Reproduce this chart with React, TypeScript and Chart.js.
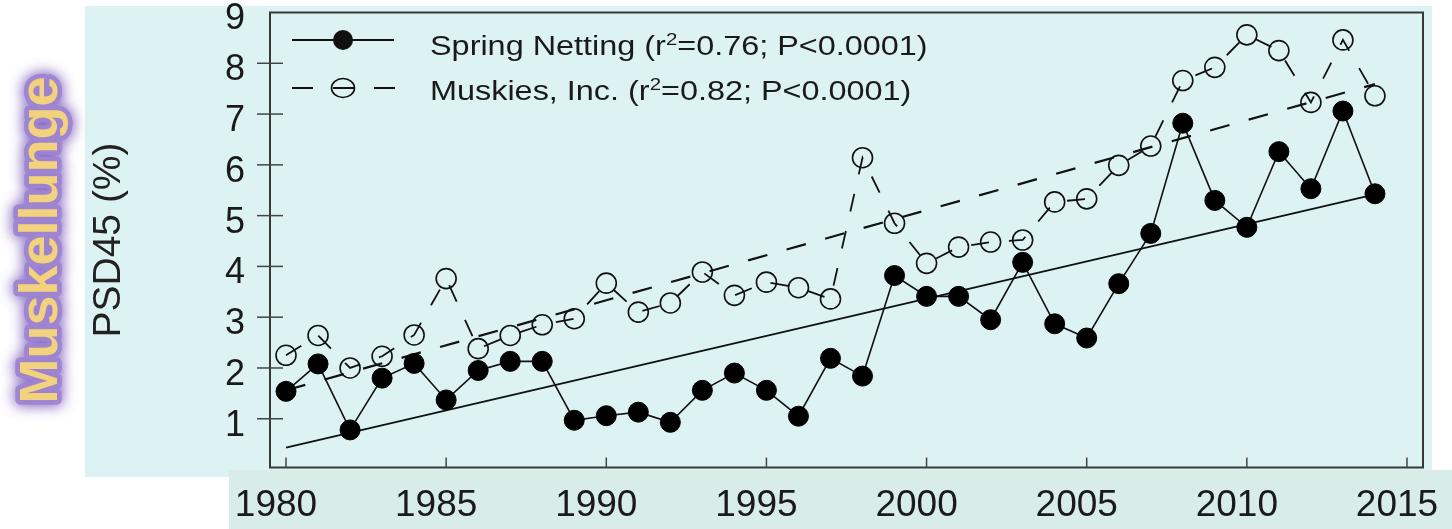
import React, { useEffect, useRef } from "react";
import { Chart, registerables } from "chart.js";

Chart.register(...registerables);

// ---- data ----
const years = [
  1980, 1981, 1982, 1983, 1984, 1985, 1986, 1987, 1988, 1989,
  1990, 1991, 1992, 1993, 1994, 1995, 1996, 1997, 1998, 1999,
  2000, 2001, 2002, 2003, 2004, 2005, 2006, 2007, 2008, 2009,
  2010, 2011, 2012, 2013, 2014,
];
const springNetting = [
  1.54, 2.08, 0.78, 1.8, 2.09, 1.37, 1.95, 2.13, 2.13, 0.97,
  1.06, 1.13, 0.93, 1.56, 1.9, 1.56, 1.05, 2.19, 1.84, 3.82,
  3.41, 3.41, 2.95, 4.08, 2.87, 2.59, 3.66, 4.65, 6.82, 5.3,
  4.77, 6.26, 5.53, 7.06, 5.43,
];
const muskiesInc = [
  2.25, 2.64, 2.0, 2.23, 2.65, 3.76, 2.38, 2.64, 2.85, 2.97,
  3.67, 3.1, 3.28, 3.89, 3.43, 3.69, 3.58, 3.36, 6.14, 4.85,
  4.06, 4.38, 4.48, 4.52, 5.27, 5.33, 5.99, 6.37, 7.66, 7.92,
  8.56, 8.25, 7.23, 8.46, 7.36,
];
const trendYears = [1980, 2014];
const springTrend = [0.43, 5.42];
const muskiesTrend = [1.56, 7.59];

const xTicks = [1980, 1985, 1990, 1995, 2000, 2005, 2010, 2015];
const yTicks = [1, 2, 3, 4, 5, 6, 7, 8, 9];

const legendNames = ["Spring Netting", "Muskies, Inc."];
const legendR2 = ["0.76", "0.82"];
const legendP = ["P<0.0001", "P<0.0001"];

const yTitle = "PSD45 (%)";
const sideLabel = "Muskellunge";

const FONT = "'Liberation Sans', Arial, Helvetica, sans-serif";

const toXY = (xs: number[], ys: number[]) => xs.map((x, i) => ({ x, y: ys[i] }));

const decorPlugin = {
  id: "decor",
  beforeDraw(chart: any) {
    const ctx = chart.ctx as CanvasRenderingContext2D;
    ctx.save();
    ctx.fillStyle = "#ffffff";
    ctx.fillRect(0, 0, chart.width, chart.height);
    ctx.fillStyle = "#ddf2f3";
    ctx.fillRect(85, 6, 1347, 471);
    ctx.fillStyle = "#d9ede8";
    ctx.fillRect(229, 470, 1223, 59);
    ctx.restore();
  },
  afterDraw(chart: any) {
    const ctx = chart.ctx as CanvasRenderingContext2D;
    const { left, right, top, bottom } = chart.chartArea;
    const xs = chart.scales.x;
    const ys = chart.scales.y;
    ctx.save();
    // box
    ctx.strokeStyle = "#383838";
    ctx.lineWidth = 2;
    ctx.strokeRect(left, top, right - left, bottom - top);
    // ticks
    ctx.lineWidth = 1.5;
    ctx.strokeStyle = "#444";
    yTicks.forEach((v) => {
      const py = ys.getPixelForValue(v);
      if (py < top + 2) return;
      ctx.beginPath();
      ctx.moveTo(left - 13, py);
      ctx.lineTo(left + 13, py);
      ctx.stroke();
    });
    xTicks.forEach((v) => {
      const px = xs.getPixelForValue(v);
      ctx.beginPath();
      ctx.moveTo(px, bottom);
      ctx.lineTo(px, bottom - 10);
      ctx.stroke();
    });

    // legend
    ctx.strokeStyle = "#111";
    ctx.fillStyle = "#111";
    ctx.lineWidth = 1.8;
    ctx.beginPath();
    ctx.moveTo(292, 40);
    ctx.lineTo(394, 40);
    ctx.stroke();
    ctx.beginPath();
    ctx.arc(343, 40, 10, 0, Math.PI * 2);
    ctx.fill();

    ctx.setLineDash([21, 20]);
    ctx.beginPath();
    ctx.moveTo(292, 88);
    ctx.lineTo(395, 88);
    ctx.stroke();
    ctx.setLineDash([]);
    ctx.lineWidth = 1.6;
    ctx.beginPath();
    ctx.ellipse(343, 88, 11.5, 9.5, 0, 0, Math.PI * 2);
    ctx.stroke();

    const baselines = [55, 100];
    legendNames.forEach((name, i) => {
      ctx.save();
      ctx.translate(430, baselines[i]);
      ctx.scale(1.2, 1);
      ctx.fillStyle = "#1a1a1a";
      ctx.textBaseline = "alphabetic";
      ctx.textAlign = "left";
      let cx = 0;
      ctx.font = `27px ${FONT}`;
      const p1 = `${name} (r`;
      ctx.fillText(p1, cx, 0);
      cx += ctx.measureText(p1).width;
      ctx.font = `17px ${FONT}`;
      ctx.fillText("2", cx, -10);
      cx += ctx.measureText("2").width;
      ctx.font = `27px ${FONT}`;
      ctx.fillText(`=${legendR2[i]}; ${legendP[i]})`, cx, 0);
      ctx.restore();
    });

    // side label
    ctx.save();
    ctx.translate(57, 240);
    ctx.rotate(-Math.PI / 2);
    ctx.font = `bold 54px ${FONT}`;
    ctx.textAlign = "center";
    ctx.textBaseline = "alphabetic";
    ctx.shadowColor = "rgba(135,105,195,0.95)";
    ctx.shadowBlur = 14;
    ctx.strokeStyle = "rgba(160,135,210,0.8)";
    ctx.lineWidth = 9;
    ctx.lineJoin = "round";
    ctx.strokeText(sideLabel, 0, 0);
    ctx.strokeText(sideLabel, 0, 0);
    ctx.shadowBlur = 0;
    ctx.shadowColor = "transparent";
    ctx.fillStyle = "#f2d27c";
    ctx.fillText(sideLabel, 0, 0);
    ctx.restore();

    ctx.restore();
  },
};

export default function App() {
  const ref = useRef<HTMLCanvasElement | null>(null);

  useEffect(() => {
    document.body.style.margin = "0";
    if (!ref.current) return;
    const chart = new Chart(ref.current, {
      type: "line",
      data: {
        datasets: [
          {
            label: legendNames[0],
            data: toXY(years, springNetting),
            borderColor: "#111",
            borderWidth: 1.6,
            pointRadius: 10,
            pointBackgroundColor: "#000",
            pointBorderColor: "#000",
            pointBorderWidth: 1,
            order: 1,
          },
          {
            label: legendNames[1],
            data: toXY(years, muskiesInc),
            borderColor: "#111",
            borderWidth: 1.8,
            borderDash: [18, 20],
            pointRadius: 10,
            pointBackgroundColor: "rgba(0,0,0,0)",
            pointBorderColor: "#111",
            pointBorderWidth: 1.6,
            order: 2,
          },
          {
            label: "trend1",
            data: toXY(trendYears, springTrend),
            borderColor: "#111",
            borderWidth: 1.8,
            pointRadius: 0,
            order: 3,
          },
          {
            label: "trend2",
            data: toXY(trendYears, muskiesTrend),
            borderColor: "#111",
            borderWidth: 2.2,
            borderDash: [20, 20],
            pointRadius: 0,
            order: 3,
          },
        ],
      },
      options: {
        animation: false,
        responsive: false,
        devicePixelRatio: 1,
        events: [],
        layout: { padding: { top: 12.5, right: 29, left: 0, bottom: 0 } },
        plugins: { legend: { display: false }, tooltip: { enabled: false } },
        scales: {
          x: {
            type: "linear",
            min: 1979.5,
            max: 2015.5,
            afterBuildTicks: (s: any) => {
              s.ticks = xTicks.map((v) => ({ value: v }));
            },
            afterFit: (s: any) => {
              s.height = 61.5;
              s.paddingLeft = 0;
              s.paddingRight = 0;
            },
            grid: { display: false, drawTicks: false },
            border: { display: false },
            ticks: {
              autoSkip: false,
              maxRotation: 0,
              padding: 16,
              labelOffset: -10,
              color: "#1a1a1a",
              font: { family: FONT, size: 37 },
              callback: (v: any) => String(v),
            },
          },
          y: {
            type: "linear",
            min: 0.04,
            max: 9,
            afterBuildTicks: (s: any) => {
              s.ticks = yTicks.map((v) => ({ value: v }));
            },
            afterFit: (s: any) => {
              s.width = 270;
              s.paddingTop = 0;
              s.paddingBottom = 0;
            },
            grid: { display: false, drawTicks: false },
            border: { display: false },
            title: {
              display: true,
              text: yTitle,
              color: "#222",
              font: { family: FONT, size: 39 },
              padding: { top: 86, bottom: 0 },
            },
            ticks: {
              padding: 25,
              labelOffset: 7,
              color: "#1a1a1a",
              font: { family: FONT, size: 36 },
              callback: (v: any) => String(v),
            },
          },
        },
      },
      plugins: [decorPlugin],
    });
    return () => chart.destroy();
  }, []);

  return (
    <div style={{ position: "absolute", left: 0, top: 0, width: 1452, height: 529 }}>
      <canvas ref={ref} width={1452} height={529} style={{ display: "block" }} />
    </div>
  );
}
